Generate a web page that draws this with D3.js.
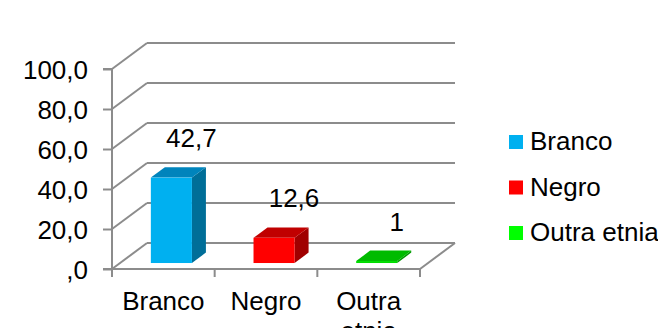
<!DOCTYPE html>
<html>
<head>
<meta charset="utf-8">
<script src="https://cdn.jsdelivr.net/npm/d3@7"></script>
<style>
  html, body { margin: 0; padding: 0; background: #fff; }
  svg { display: block; font-family: "Liberation Sans", Arial, sans-serif; }
</style>
</head>
<body>
<svg id="chart" width="658" height="328"></svg>
<script>
// Data
const categories = ["Branco", "Negro", "Outra etnia"];
const values = [42.7, 12.6, 1];
const valueLabels = ["42,7", "12,6", "1"];
const yTicks = [0, 20, 40, 60, 80, 100];
const frontColors = ["#00B0F0", "#FF0000", "#00DD00"];
const topColors = ["#0084BC", "#C00000", "#00BB00"];
const sideColors = ["#006E98", "#A00000", "#009900"];
const legendColors = ["#00B0F0", "#FF0000", "#00FF00"];

const svg = d3.select("#chart");
const gridColor = "#8c8c8c";
const fontSize = 26;

// Front plane of the plot area and 3D depth offset
const plotLeft = 112, plotRight = 420, plotBottom = 269, plotTop = 69;
const depth = { dx: 35, dy: -26 };
const barFront = 0.23, barBack = 0.63;   // fractions of depth occupied by bars

const x = d3.scaleBand().domain(categories).range([plotLeft, plotRight]).padding(0);
const y = d3.scaleLinear().domain([0, 100]).range([plotBottom, plotTop]);

const fmt = v => v === 0 ? ",0" : d3.format(".1f")(v).replace(".", ",");

// Back wall gridlines and left wall diagonals
const grid = svg.append("g").attr("stroke", gridColor).attr("stroke-width", 2).attr("fill", "none");
yTicks.forEach(t => {
  const yy = y(t);
  grid.append("line")
    .attr("x1", plotLeft + depth.dx).attr("y1", yy + depth.dy)
    .attr("x2", plotRight + depth.dx).attr("y2", yy + depth.dy);
  grid.append("line")
    .attr("x1", plotLeft).attr("y1", yy)
    .attr("x2", plotLeft + depth.dx).attr("y2", yy + depth.dy);
});
// Floor front edge and right edge
grid.append("line").attr("x1", plotLeft).attr("y1", plotBottom).attr("x2", plotRight).attr("y2", plotBottom);
grid.append("line").attr("x1", plotRight).attr("y1", plotBottom)
  .attr("x2", plotRight + depth.dx).attr("y2", plotBottom + depth.dy);

// Value axis
const yAxis = d3.axisLeft(y).tickValues(yTicks).tickSize(9).tickFormat(fmt);
const ya = svg.append("g").attr("transform", `translate(${plotLeft},0)`).call(yAxis);
ya.select(".domain").attr("stroke", gridColor).attr("stroke-width", 2).attr("d", `M-9,${plotTop}H0V${plotBottom}H-9`);
ya.selectAll(".tick line").attr("stroke", gridColor).attr("stroke-width", 2);
ya.selectAll(".tick text").attr("font-size", fontSize).attr("fill", "#000")
  .attr("x", -24).attr("dy", "0.36em").attr("font-family", "Liberation Sans, Arial, sans-serif");

// Category axis ticks at band edges
const edges = categories.map(c => x(c)).concat([plotRight]);
svg.append("g").selectAll("line").data(edges).join("line")
  .attr("x1", d => d).attr("x2", d => d)
  .attr("y1", plotBottom).attr("y2", plotBottom + 8)
  .attr("stroke", gridColor).attr("stroke-width", 2);

// Category labels (wrapped)
const catG = svg.append("g").attr("font-size", fontSize).attr("text-anchor", "middle").attr("fill", "#000");
categories.forEach(c => {
  const words = c.split(" ");
  const t = catG.append("text").attr("x", x(c) + x.bandwidth() / 2).attr("y", 310);
  words.forEach((w, i) => {
    t.append("tspan").attr("x", x(c) + x.bandwidth() / 2).attr("dy", i === 0 ? 0 : 30).text(w);
  });
});

// 3D bars
const bw = x.bandwidth() * 0.4;
const fdx = depth.dx * barFront, fdy = depth.dy * barFront;
const bdx = depth.dx * barBack, bdy = depth.dy * barBack;
const bars = svg.append("g");
categories.forEach((c, i) => {
  const x0 = x(c) + (x.bandwidth() - bw) / 2 + fdx;
  const x1 = x0 + bw;
  const y0 = y(0) + fdy;
  const y1 = y(values[i]) + fdy;
  const ddx = bdx - fdx, ddy = bdy - fdy;
  // side face
  bars.append("path")
    .attr("d", `M${x1},${y0}L${x1 + ddx},${y0 + ddy}L${x1 + ddx},${y1 + ddy}L${x1},${y1}Z`)
    .attr("fill", sideColors[i]);
  // top face
  bars.append("path")
    .attr("d", `M${x0},${y1}L${x1},${y1}L${x1 + ddx},${y1 + ddy}L${x0 + ddx},${y1 + ddy}Z`)
    .attr("fill", topColors[i]);
  // front face
  bars.append("rect")
    .attr("x", x0).attr("y", y1).attr("width", bw).attr("height", Math.max(0, y0 - y1))
    .attr("fill", frontColors[i]);
  // value label
  svg.append("text")
    .attr("x", x(c) + x.bandwidth() / 2 + 28)
    .attr("y", y(values[i]) + bdy - 20)
    .attr("text-anchor", "middle").attr("font-size", fontSize).attr("fill", "#000")
    .text(valueLabels[i]);
});

// Legend
const legend = svg.append("g").attr("transform", "translate(509,135)");
categories.forEach((c, i) => {
  const g = legend.append("g").attr("transform", `translate(0,${i * 45.5})`);
  g.append("rect").attr("width", 14).attr("height", 14).attr("fill", legendColors[i]);
  g.append("text").attr("x", 21).attr("y", 15).attr("font-size", fontSize).attr("fill", "#000").text(c);
});
</script>
</body>
</html>
